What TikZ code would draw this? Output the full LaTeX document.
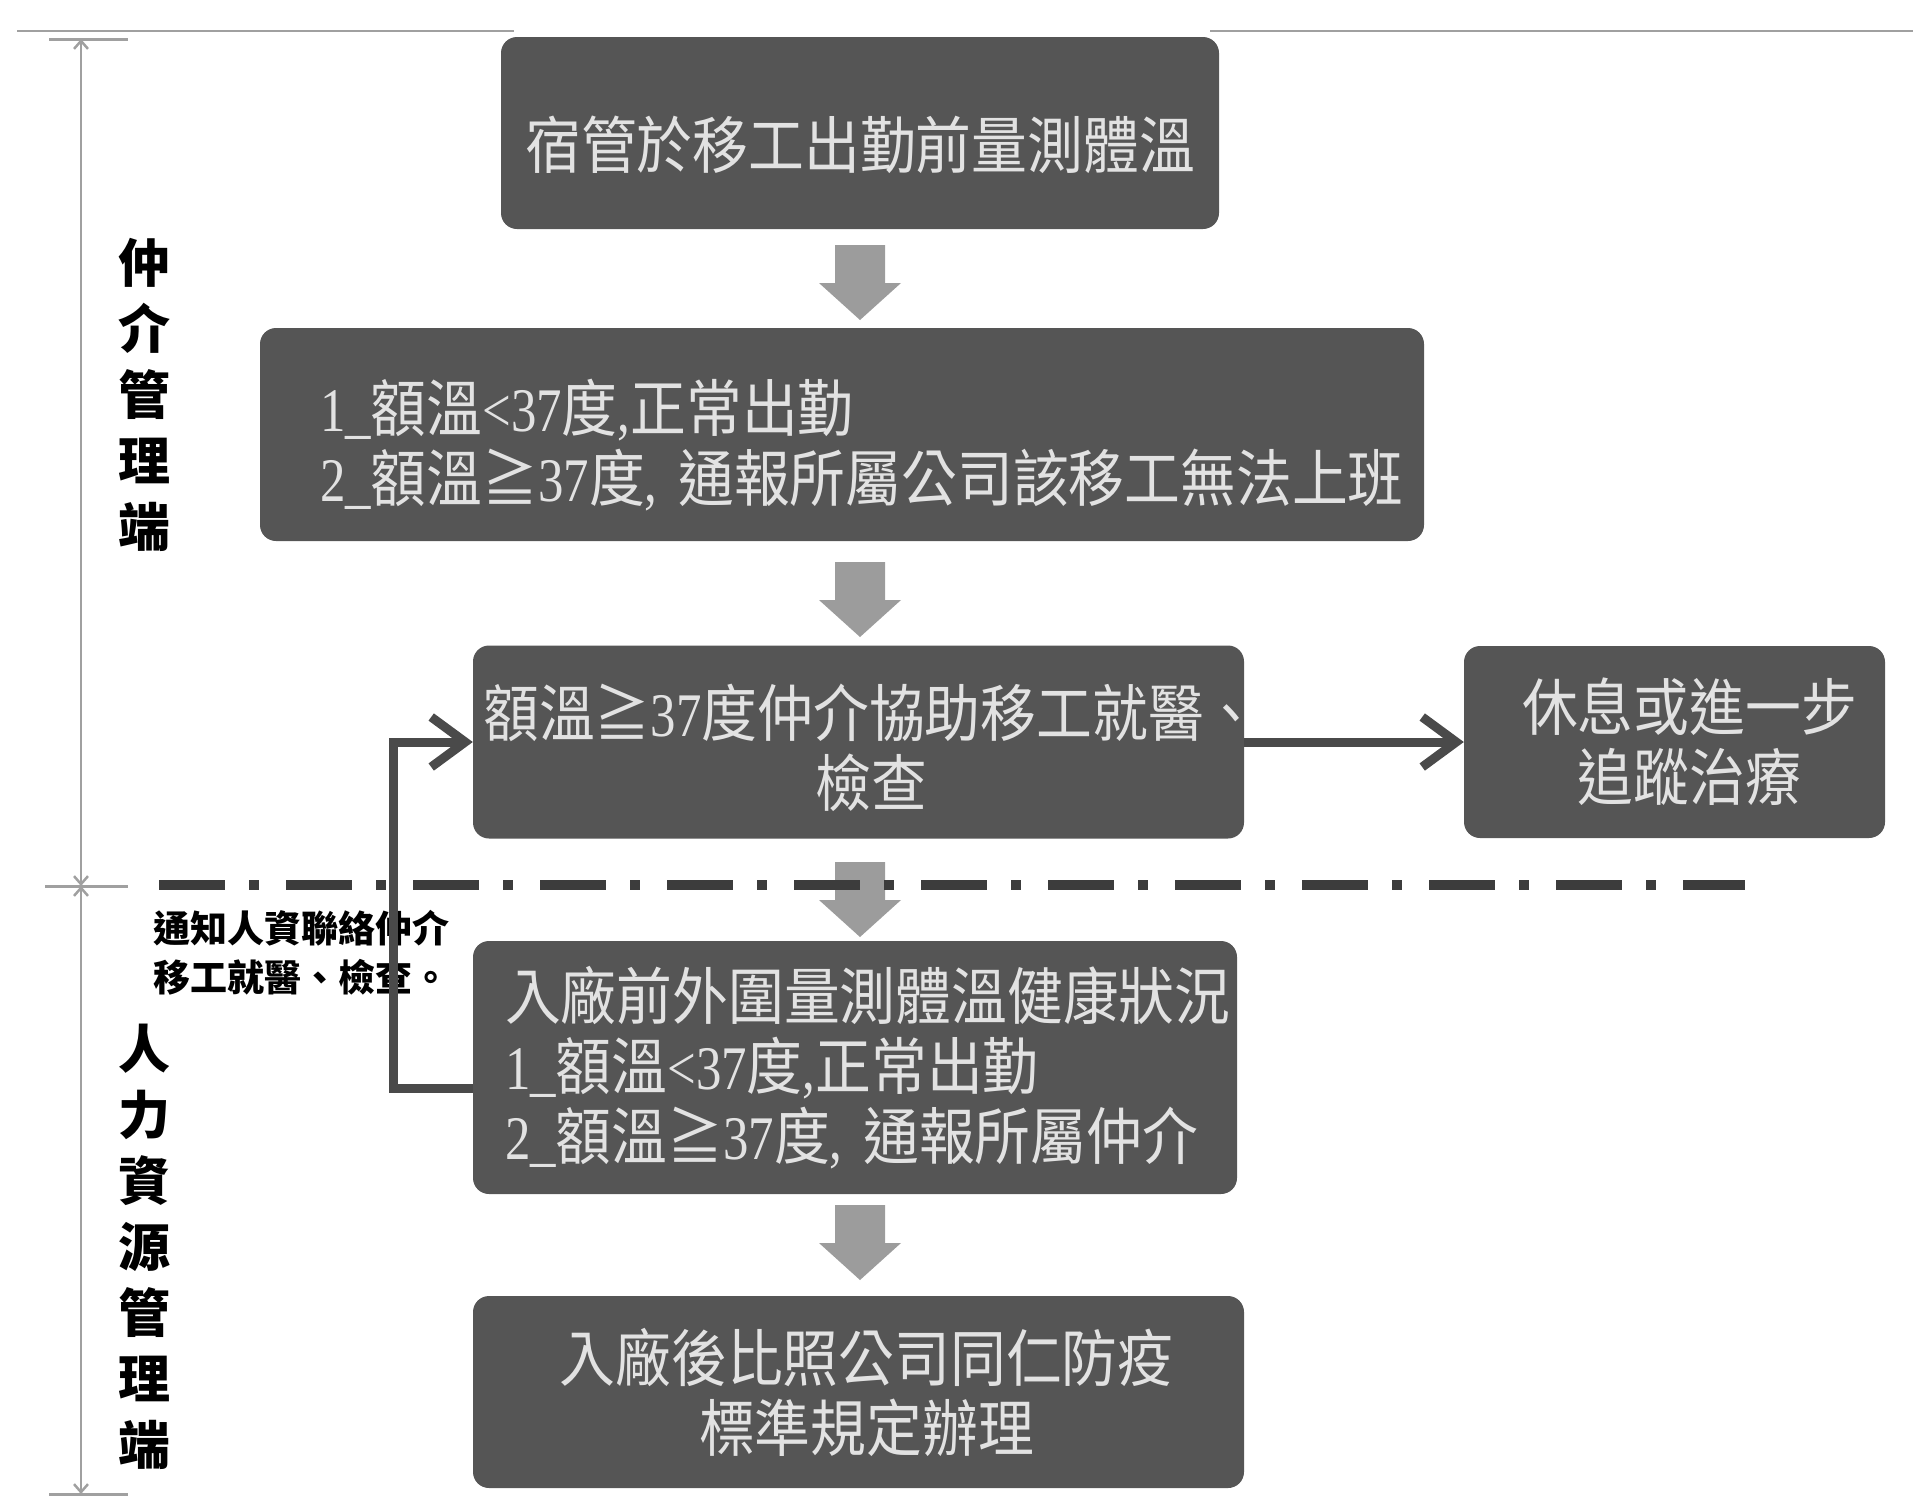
\documentclass[tikz,border=0pt]{standalone}
\usepackage{fontspec}
\newfontfamily\boxfont[FakeStretch=0.9]{Noto Sans CJK TC}
\newfontfamily\latfont[FakeStretch=0.82]{Liberation Serif}
\newfontfamily\lblfont{Noto Sans CJK TC}
\newcommand\latn[1]{{\latfont #1}}
\usetikzlibrary{arrows.meta}
\definecolor{boxgray}{HTML}{555555}
\definecolor{boxtext}{HTML}{E2E2E2}
\definecolor{arrowgray}{HTML}{9C9C9C}
\definecolor{linegray}{HTML}{4A4A4A}
\definecolor{dimgray}{HTML}{A0A0A0}
\definecolor{dashgray}{HTML}{3C3C3C}
\begin{document}
\begin{tikzpicture}[x=1pt,y=-1pt,
  box/.style={fill=boxgray, rounded corners=16pt, text=boxtext, inner sep=0pt,
    font=\boxfont\fontsize{62}{70}\selectfont, align=center},
  lbl/.style={font=\lblfont\bfseries\fontsize{52}{66}\selectfont, align=center, inner sep=0pt, text=black},
  note/.style={font=\lblfont\bfseries\fontsize{37}{49}\selectfont, align=left, inner sep=0pt, text=black, anchor=west},
  conn/.style={draw=linegray, line width=9pt, -{Straight Barb[length=34pt,width=50pt]}},
  dim/.style={draw=dimgray, line width=2.5pt, {Straight Barb[length=8pt,width=14pt]}-{Straight Barb[length=8pt,width=14pt]}},
  tick/.style={draw=dimgray, line width=3pt},
  dashline/.style={draw=dashgray, line width=10pt, dash pattern=on 66pt off 24pt on 10pt off 27pt},
  downarrow/.pic={\fill[arrowgray] (-25,0) -- (25,0) -- (25,38) -- (41,38) -- (0,75) -- (-41,38) -- (-25,38) -- cycle;}
]
\useasboundingbox (0,0) rectangle (1913,1508);

% top rule
\draw[dimgray, line width=2.5pt] (17,31) -- (514,31);
\draw[dimgray, line width=2.5pt] (1210,31) -- (1913,31);

% dimension lines on the left
\coordinate (d1) at (81,39);
\coordinate (d2) at (81,886);
\coordinate (d3) at (81,1494);
\draw[tick] (49,39) -- (128,39);
\draw[tick] (45,886) -- (128,886);
\draw[tick] (49,1494) -- (128,1494);
\draw[dim] (d1) -- (d2);
\draw[dim] (d2) -- (d3);

\node[lbl] (lblA) at (144,395) {仲\\介\\管\\理\\端};
\node[lbl] (lblB) at (144,1247) {人\\力\\資\\源\\管\\理\\端};

% boxes
\node[box, minimum width=718pt, minimum height=192pt] (b1) at (860,133) {\rule{0pt}{76pt}宿管於移工出勤前量測體溫};
\node[box, minimum width=1164pt, minimum height=213pt, text width=1044pt, align=left] (b2) at (842,434.5)
  {\rule{0pt}{74pt}\mbox{\latn{1\_}額溫\latn{<37}度\latn{,}正常出勤}\\\mbox{\latn{2\_}額溫≧\latn{37}度\latn{, }通報所屬公司該移工無法上班}};
\node[box, minimum width=771pt, minimum height=193pt] (b3) at (858.5,742)
  {\rule{0pt}{64pt}\makebox[700pt][c]{\hspace*{26pt}額溫≧\latn{37}度仲介協助移工就醫、}\\\hspace*{26pt}檢查};
\node[box, minimum width=421pt, minimum height=192pt] (b4) at (1674.5,742)
  {\hspace*{30pt}休息或進一步\\\hspace*{30pt}追蹤治療};
\node[box, minimum width=764pt, minimum height=253pt, text width=700pt, align=left] (b5) at (855,1067.5)
  {\mbox{入廠前外圍量測體溫健康狀況}\\\mbox{\latn{1\_}額溫\latn{<37}度\latn{,}正常出勤}\\\mbox{\latn{2\_}額溫≧\latn{37}度\latn{, }通報所屬仲介}};
\node[box, minimum width=771pt, minimum height=192pt] (b6) at (858.5,1392)
  {\hspace*{16pt}入廠後比照公司同仁防疫\\\hspace*{16pt}標準規定辦理};

% block arrows
\pic at (860,245) {downarrow};
\pic at (860,562) {downarrow};
\pic at (860,862) {downarrow};
\pic at (860,1205) {downarrow};

% separator
\draw[dashline] (159,885) -- (1745,885);

% note
\node[note] (nt) at (153,953) {通知人資聯絡仲介\\移工就醫、檢查。};

% connectors
\draw[conn] (b3.east) -- (b4.west);
\coordinate (fb) at (393,1088);
\draw[conn] (b5.west |- fb) -- (fb) |- (b3.west);
\end{tikzpicture}
\end{document}
